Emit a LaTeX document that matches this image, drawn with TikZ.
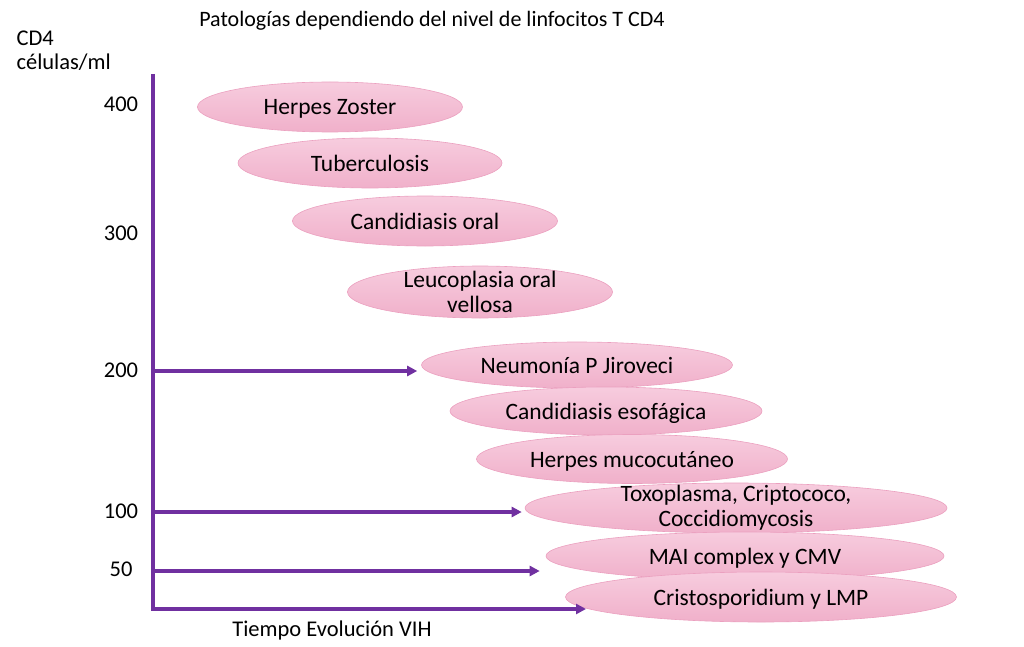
\documentclass[tikz,border=0pt]{standalone}
\usepackage{fontspec}
\setmainfont{Carlito}
\usetikzlibrary{shapes.geometric,arrows.meta}
\definecolor{axispurple}{HTML}{7030A0}
\definecolor{pinktop}{HTML}{F7CCDE}
\definecolor{pinkbot}{HTML}{F0B0CA}
\definecolor{pinkline}{HTML}{EBA0BF}

\begin{document}
\begin{tikzpicture}[x=1pt,y=-1pt,>={Triangle[length=10pt,width=10pt]},
    sick/.style={ellipse, draw=pinkline, line width=0.6pt, top color=pinktop, bottom color=pinkbot,
      inner sep=0pt, align=center, font=\fontsize{23.5}{25}\selectfont},
    axis/.style={line width=3.5pt, draw=axispurple},
    lbl/.style={font=\fontsize{22.5}{26}\selectfont}]
\useasboundingbox (0,0) rectangle (1024,647);

% texts round the axes
\node[font=\fontsize{22}{26}\selectfont] (title) at (432,21) {Patologías dependiendo del nivel de linfocitos T CD4};
\node[lbl, anchor=west] (cd4) at (13,38) {CD4};
\node[lbl, anchor=west] (cel) at (13,62) {células/ml};
\node[lbl] (tiempo) at (332,630) {Tiempo Evolución VIH};

\foreach \v/\h in {400/104,300/233,200/370,100/511,50/569}
{
    \node[lbl] (l\v) at (121,\h) {\v};
}

% pathologies
\node[sick, text depth=0pt, minimum width=265pt, minimum height=50pt] (hz) at (330,107) {Herpes Zoster};
\node[sick, text depth=0pt, minimum width=264pt, minimum height=50pt] (tb) at (370,163) {Tuberculosis};
\node[sick, text depth=0pt, minimum width=265pt, minimum height=50pt] (co) at (425,221) {Candidiasis oral};
\node[sick, minimum width=265pt, minimum height=52pt, inner ysep=-10pt] (lov) at (480,292) {Leucoplasia oral\\vellosa};
\node[sick, text depth=0pt, minimum width=311pt, minimum height=46pt] (neum) at (577,365) {Neumonía P Jiroveci};
\node[sick, text depth=0pt, minimum width=312pt, minimum height=48pt] (ce) at (606,411) {Candidiasis esofágica};
\node[sick, text depth=0pt, minimum width=311pt, minimum height=49pt] (hm) at (632,459) {Herpes mucocutáneo};
\node[sick, minimum width=422pt, minimum height=50pt, inner ysep=-10pt] (toxo) at (736,508) {Toxoplasma, Criptococo,\\Coccidiomycosis};
\node[sick, text depth=0pt, minimum width=398pt, minimum height=48pt] (mai) at (745,556) {MAI complex y CMV};
\node[sick, text depth=0pt, minimum width=391pt, minimum height=50pt] (cris) at (761,597) {Cristosporidium y LMP};

% axes and arrows
\coordinate (top) at (153,74);
\coordinate (orig) at (153,609);
\coordinate (tend) at (586,609);
\draw[axis,->] (top) -- (orig) -- (tend);

\foreach \v/\h in {200/371,100/512,50/571}
{
    \coordinate (a\v) at (153,\h);
}
\foreach \v/\e/\s in {200/neum/4pt,100/toxo/3pt,50/mai/6pt}
{
    \draw[axis,->,shorten >=\s] (a\v) -- (\e.west |- a\v);
}

\end{tikzpicture}
\end{document}
